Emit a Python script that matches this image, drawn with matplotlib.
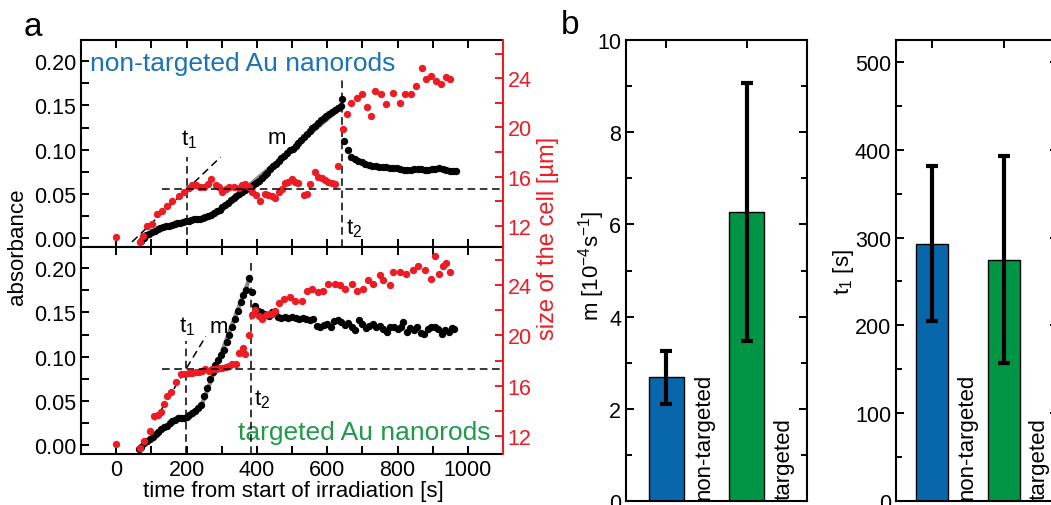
import numpy as np
import matplotlib
matplotlib.use("Agg")
import matplotlib.pyplot as plt
from matplotlib.ticker import MultipleLocator

plt.rcParams['font.family'] = ['Liberation Sans', 'DejaVu Sans']
plt.rcParams['mathtext.default'] = 'regular'

RED = '#ed1c24'
BLUE = '#0866ab'
GREEN = '#009445'

# ---- panel a, top: non-targeted ----
top_black_t = [70, 78, 86, 94, 102, 110, 118, 126, 134, 142, 150, 158, 166, 174, 182, 190, 198, 206,
               214, 222, 230, 238, 246, 254, 262, 270, 278, 286, 294, 302, 310, 318, 326, 334, 342, 350,
               358, 366, 374, 382, 390, 398, 406, 414, 422, 430, 438, 446, 454, 462, 470, 478, 486, 494,
               502, 510, 518, 526, 534, 542, 550, 558, 566, 574, 582, 590, 598, 606, 614, 622, 630, 638,
               643, 648, 658, 668, 678, 688, 698, 708, 718, 728, 738, 748, 758, 768, 778, 788, 798, 808,
               818, 828, 838, 848, 858, 868, 878, 888, 898, 908, 918, 928, 938, 948, 958, 966]
top_black_abs = [-0.003, 0.000, 0.003, 0.005, 0.007, 0.008, 0.010, 0.011, 0.012, 0.013, 0.014, 0.015,
                 0.016, 0.017, 0.017, 0.018, 0.019, 0.019, 0.020, 0.021, 0.021, 0.022, 0.023, 0.024,
                 0.025, 0.026, 0.028, 0.030, 0.032, 0.035, 0.037, 0.040, 0.043, 0.045, 0.048, 0.050,
                 0.052, 0.054, 0.056, 0.058, 0.060, 0.062, 0.065, 0.068, 0.071, 0.074, 0.078, 0.081,
                 0.084, 0.087, 0.090, 0.093, 0.096, 0.099, 0.101, 0.104, 0.107, 0.111, 0.114, 0.118,
                 0.121, 0.124, 0.127, 0.130, 0.133, 0.136, 0.138, 0.140, 0.142, 0.145, 0.147, 0.149,
                 0.157, 0.110, 0.100, 0.092, 0.089, 0.087, 0.086, 0.084, 0.083, 0.082, 0.081, 0.080,
                 0.080, 0.080, 0.079, 0.079, 0.079, 0.078, 0.077, 0.077, 0.077, 0.078, 0.078, 0.078,
                 0.077, 0.077, 0.078, 0.078, 0.079, 0.078, 0.077, 0.076, 0.076, 0.076]
top_red_t = [0, 67, 75, 89, 103, 117, 131, 145, 160, 178, 193, 207, 216, 226, 238, 250, 260, 269, 283,
             292, 302, 311, 321, 335, 349, 358, 367, 377, 387, 398, 410, 424, 433, 443, 452, 462, 471,
             480, 490, 500, 509, 518, 533, 543, 552, 566, 575, 585, 594, 603, 613, 622, 632,
             646, 655, 668, 684, 698, 712, 724, 736, 752, 768, 787, 806, 820, 839, 853, 870, 881,
             895, 909, 923, 937, 949]
top_red_um = [11.1, 10.7, 11.2, 12.0, 12.2, 13.0, 13.2, 13.6, 14.0, 14.4, 14.8, 15.1, 15.3, 15.3,
              15.2, 15.2, 15.4, 15.8, 15.3, 15.2, 14.8, 15.0, 15.2, 15.2, 15.1, 15.3, 15.4, 15.2,
              14.8, 14.5, 14.0, 14.6, 14.5, 14.4, 14.3, 14.8, 15.0, 15.5, 15.6, 15.8, 15.6, 15.5,
              14.5, 14.6, 15.4, 16.4, 16.0, 15.9, 15.7, 15.6, 15.5, 15.4, 16.9,
              19.9, 21.1, 22.0, 22.4, 22.7, 21.7, 20.9, 23.0, 22.7, 21.9, 22.8, 22.0, 22.7, 22.7,
              23.4, 24.8, 23.9, 24.2, 23.8, 23.5, 24.1, 23.9]

# ---- panel a, bottom: targeted ----
bot_black_t = [65, 72, 80, 88, 96, 104, 112, 120, 128, 136, 144, 152, 160, 168, 176, 184, 192, 200,
               208, 216, 224, 232, 240, 250, 258, 266, 274, 282, 290, 298, 306, 314, 322, 330, 338,
               346, 354, 362, 370, 378, 386, 394, 404, 412, 420, 428, 436, 444, 452, 460, 470, 480,
               490, 500, 510, 520, 530, 540, 550, 560, 570, 580, 590, 600, 610, 620, 630, 640, 650,
               660, 670, 680, 690, 700, 710, 720, 730, 740, 750, 760, 770, 780, 790, 800, 810, 816,
               826, 836, 846, 856, 866, 876, 886, 896, 906, 916, 926, 936, 946, 956, 962]
bot_black_abs = [-0.004, -0.002, 0.002, 0.005, 0.007, 0.009, 0.012, 0.015, 0.018, 0.020, 0.022,
                 0.025, 0.027, 0.028, 0.030, 0.030, 0.031, 0.032, 0.034, 0.036, 0.039, 0.042, 0.045,
                 0.055, 0.065, 0.075, 0.083, 0.090, 0.096, 0.102, 0.108, 0.116, 0.125, 0.133, 0.142,
                 0.152, 0.162, 0.170, 0.175, 0.189, 0.173, 0.157, 0.152, 0.150, 0.148, 0.147, 0.146,
                 0.150, 0.151, 0.145, 0.144, 0.145, 0.144, 0.145, 0.144, 0.143, 0.144, 0.143, 0.141,
                 0.142, 0.135, 0.134, 0.136, 0.137, 0.134, 0.140, 0.141, 0.139, 0.136, 0.138, 0.134,
                 0.130, 0.141, 0.137, 0.132, 0.135, 0.137, 0.133, 0.135, 0.131, 0.128, 0.133, 0.134,
                 0.131, 0.133, 0.139, 0.128, 0.132, 0.130, 0.133, 0.127, 0.126, 0.131, 0.134, 0.133,
                 0.131, 0.126, 0.130, 0.128, 0.132, 0.131]
bot_red_t = [0, 67, 79, 95, 108, 118, 127, 136, 145, 155, 169, 183, 197, 206, 216, 226, 235, 245, 254,
             264, 273, 283, 292, 302, 311, 320, 330, 342, 348, 362, 367, 377, 386, 396, 406, 415, 425,
             434, 443, 453, 462, 476, 495, 509, 528, 542, 556, 575, 589, 603, 622, 637, 651, 670, 684,
             703, 717, 731, 750, 759, 778, 788, 807, 825, 844, 858, 877, 896, 908, 917, 929, 939, 948]
bot_red_um = [11.4, 11.1, 11.6, 12.4, 13.6, 13.7, 13.9, 14.6, 15.2, 15.5, 16.3, 16.9, 16.9, 17.0,
              17.0, 17.1, 17.1, 17.2, 17.3, 17.2, 17.3, 17.3, 17.4, 17.4, 17.5, 17.6, 17.7, 17.7,
              18.6, 19.0, 18.5, 20.0, 21.6, 22.0, 21.5, 21.3, 21.6, 21.7, 21.7, 21.9, 22.6, 22.9,
              23.0, 22.7, 22.7, 23.5, 23.7, 23.4, 23.5, 24.1, 24.1, 24.0, 23.7, 24.1, 23.5, 23.7,
              24.4, 24.1, 24.8, 24.4, 24.0, 25.0, 25.0, 24.9, 25.2, 25.5, 25.2, 24.5, 26.3, 24.9,
              25.5, 25.7, 25.0]

# guide lines (fits, tangents, thresholds)
top_fit_t, top_fit_abs = [300, 640], [0.033, 0.148]
bot_fit_t, bot_fit_abs = [243, 380], [0.045, 0.189]
top_tan_t, top_tan_abs = [45, 297], [-0.0045, 0.0916]
bot_tan_t, bot_tan_abs = [110, 255], [0.028, 0.123]
top_t1, top_t2, top_level = 200, 643, 15.0
bot_t1, bot_t2, bot_level = 198, 383, 17.3

# ---- panel b ----
groups = ['non-targeted', 'targeted']
bar_pos = [1, 2]
m_vals = [2.68, 6.27]
m_err = [0.58, 2.80]
t1_vals = [293, 275]
t1_err = [88, 118]

fig = plt.figure(figsize=(10.51, 5.06), dpi=100)
W, H = 1051, 506


def box(l, t, r, b):
    return [l / W, 1 - b / H, (r - l) / W, (b - t) / H]


def style_ax(ax, lw=1.5):
    for s in ax.spines.values():
        s.set_linewidth(lw)
    ax.tick_params(which='both', direction='in', width=1.4, labelsize=15.5)
    ax.tick_params(which='major', length=6)
    ax.tick_params(which='minor', length=4)


ax_top = fig.add_axes(box(81, 41, 503, 248))
ax_bot = fig.add_axes(box(81, 248, 503, 455))

panels = [
    (ax_top, top_black_t, top_black_abs, top_red_t, top_red_um, top_fit_t, top_fit_abs,
     top_tan_t, top_tan_abs, top_t1, top_t2, top_level, (10.3, 27.1), 0.0915, 0.182),
    (ax_bot, bot_black_t, bot_black_abs, bot_red_t, bot_red_um, bot_fit_t, bot_fit_abs,
     bot_tan_t, bot_tan_abs, bot_t1, bot_t2, bot_level, (10.6, 27.0), 0.118, 0.208),
]
for (ax, bt, ba, rt, ru, ft, fa, tt, ta, t1, t2, lev, rlim, t1_top, t2_top) in panels:
    ax.set_xlim(-100, 1100)
    ax.set_ylim(-0.0102, 0.224)
    ax.plot(ft, fa, color='#8a8a8a', lw=3, zorder=2, solid_capstyle='butt')
    ax.plot(bt, ba, 'o', color='black', ms=5.3, mew=0, zorder=3)
    ax.plot(tt, ta, '--', color='black', lw=1.1, dashes=(5, 3), zorder=4)
    ax.vlines(t1, -0.0102, t1_top, colors='black', linestyles=(0, (5, 3)), lw=1.1, zorder=4)
    ax.vlines(t2, -0.0102, t2_top, colors='black', linestyles=(0, (5, 3)), lw=1.1, zorder=4)
    ax.xaxis.set_major_locator(MultipleLocator(200))
    ax.xaxis.set_minor_locator(MultipleLocator(100))
    ax.yaxis.set_major_locator(MultipleLocator(0.05))
    ax.yaxis.set_minor_locator(MultipleLocator(0.025))
    ax.yaxis.set_major_formatter(matplotlib.ticker.FormatStrFormatter('%.2f'))
    style_ax(ax)
    ax.tick_params(which='both', top=True, right=False)
    ax.tick_params(which='minor', length=6)

    axr = ax.twinx()
    axr.set_ylim(*rlim)
    axr.plot(rt, ru, 'o', color=RED, ms=5.3, mew=0, zorder=3)
    axr.hlines(lev, 130, 1100, colors='black', linestyles=(0, (5, 3)), lw=1.1, zorder=4)
    axr.yaxis.set_major_locator(MultipleLocator(4))
    axr.yaxis.set_minor_locator(MultipleLocator(2))
    style_ax(axr)
    axr.tick_params(which='both', colors=RED, left=False, top=False, bottom=False)
    axr.tick_params(which='minor', length=6)
    for name in ['left', 'top', 'bottom']:
        axr.spines[name].set_visible(False)
    axr.spines['right'].set_color(RED)
    ax.spines['right'].set_visible(False)
    axr.set_xlim(-100, 1100)

ax_top.tick_params(labelbottom=False)

ax_top.text(-74, 0.198, 'non-targeted Au nanorods', color='#1b72b8', fontsize=19,
            ha='left', va='center')
ax_bot.text(1065, 0.015, 'targeted Au nanorods', color='#1f9a4a', fontsize=19,
            ha='right', va='center')
ax_top.text(207, 0.112, '$t_1$', fontsize=16, ha='center', va='center')
ax_top.text(456, 0.114, 'm', fontsize=16, ha='center', va='center')
ax_top.text(676, 0.012, '$t_2$', fontsize=16, ha='center', va='center')
ax_bot.text(201, 0.135, '$t_1$', fontsize=16, ha='center', va='center')
ax_bot.text(292, 0.134, 'm', fontsize=16, ha='center', va='center')
ax_bot.text(416, 0.052, '$t_2$', fontsize=16, ha='center', va='center')

fig.text(18 / W, 1 - 247 / H, 'absorbance', rotation=90, fontsize=16, ha='center', va='center')
fig.text(548 / W, 1 - 238 / H, 'size of the cell [µm]', rotation=90, fontsize=17,
         color=RED, ha='center', va='center')
fig.text(293 / W, 1 - 492 / H, 'time from start of irradiation [s]', fontsize=16,
         ha='center', va='center')
fig.text(33 / W, 1 - 27 / H, 'a', fontsize=24, ha='center', va='center')
fig.text(570 / W, 1 - 25 / H, 'b', fontsize=24, ha='center', va='center')

# ---- bar panels ----
ax_m = fig.add_axes(box(626, 41, 807, 502))
ax_t = fig.add_axes(box(896, 41, 1058, 502))
bar_sets = [
    (ax_m, m_vals, m_err, (0, 10), 2, 1, 0.04),
    (ax_t, t1_vals, t1_err, (0, 525), 100, 50, 2),
]
for ax, vals, errs, ylim, maj, mnr, ytxt in bar_sets:
    ax.bar(bar_pos, vals, width=0.44, color=[BLUE, GREEN], edgecolor='black', lw=1,
           yerr=errs, capsize=4,
           error_kw=dict(elinewidth=3, capthick=3, ecolor='black'), zorder=2)
    ax.set_xlim(0.5, 2.75)
    ax.set_ylim(*ylim)
    ax.set_xticks(bar_pos)
    ax.set_xticklabels([])
    ax.yaxis.set_major_locator(MultipleLocator(maj))
    ax.yaxis.set_minor_locator(MultipleLocator(mnr))
    style_ax(ax)
    ax.tick_params(which='both', top=True, right=True)
    for xp, name in zip(bar_pos, groups):
        ax.text(xp + 0.34, ytxt, name, rotation=90, fontsize=16, ha='left', va='bottom')

fig.text(592 / W, 1 - 266 / H, 'm [10$^{-4}$s$^{-1}$]', rotation=90, fontsize=16,
         ha='center', va='center')
fig.text(843 / W, 1 - 272 / H, '$t_1$ [s]', rotation=90, fontsize=16,
         ha='center', va='center')

fig.savefig('out.png', dpi=100)
